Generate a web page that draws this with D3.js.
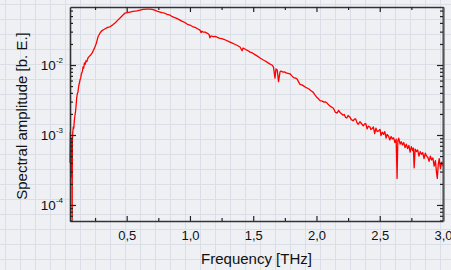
<!DOCTYPE html>
<html>
<head>
<meta charset="utf-8">
<script src="https://cdn.jsdelivr.net/npm/d3@7"></script>
<style>
  body { margin: 0; background: #eef0f4; }
  svg { display: block; font-family: "Liberation Sans", Arial, sans-serif; }
</style>
</head>
<body>
<svg id="chart" width="451" height="270"></svg>
<script>
// spectrum
let freq = [0.052,0.055,0.058,0.061,0.064,0.067,0.069,0.071,0.074,0.078,0.082,0.086,0.091,0.095,0.100,0.105,0.110,0.115,0.120,0.125,
  0.131,0.137,0.143,0.150,0.155,0.160,0.166,0.172,0.178,0.185,0.194,0.205,0.215,0.226,0.237,0.249,0.260,0.273,0.285,0.300,
  0.313,0.330,0.350,0.368,0.390,0.408,0.428,0.447,0.467,0.487,0.506,0.526,0.55,0.58,0.605,0.63,0.66,0.684,0.71,0.74,
  0.763,0.78,0.80,0.82,0.842,0.86,0.88,0.90,0.921,0.94,0.96,0.98,1.000,1.02,1.04,1.06,1.079,1.088,1.095,1.105,1.120,1.135,1.150,1.158,1.165,1.185,1.20,1.214,1.23,1.25,
  1.28,1.30,1.317,1.335,1.35,1.375,1.396,1.412,1.42,1.445,1.46,1.475,1.49,1.51,1.53,1.554,1.58,1.595,1.609,1.63,1.649,1.66,1.672,1.680,1.690,1.700,
  1.712,1.72,1.736,1.75,1.76,1.775,1.791,1.805,1.82,1.835,1.847,1.860,1.870,1.885,1.90,1.915,1.926,1.94,1.95,1.96,1.973,1.985,2.00,2.015,2.028,2.045,2.06,2.07,2.085,2.095,2.107,2.12,2.13,2.14,2.15,2.163,2.175,
  2.186,2.20,2.21,2.22,2.23,2.24,2.25,2.265,2.275,2.29,2.30,2.31,2.32,2.33,2.344,2.355,2.37,2.38,2.39,2.40,2.41,2.423,2.43,2.44,2.45,2.46,2.47,2.48,2.49,2.502,
  2.51,2.52,2.53,2.54,2.55,2.558,2.57,2.58,2.59,2.60,2.61,2.62,2.63,2.637,2.643,2.65,2.661,2.67,2.68,2.69,2.70,2.71,2.72,2.73,2.74,2.75,2.76,2.766,2.772,2.78,
  2.79,2.80,2.81,2.82,2.83,2.84,2.85,2.86,2.87,2.88,2.89,2.90,2.91,2.92,2.93,2.94,2.948,2.955,2.962,2.97,2.98,2.99,3.0];
let amp = [4.0e-4,1.1e-3,3.5e-4,9.0e-4,2.5e-4,7.0e-4,6.2e-5,8.5e-4,1.1e-3,1.3e-3,1.25e-3,1.6e-3,1.9e-3,2.1e-3,2.6e-3,3.4e-3,3.9e-3,4.1e-3,4.9e-3,5.4e-3,
  6.1e-3,6.6e-3,7.6e-3,8.1e-3,9.4e-3,9.0e-3,1.07e-2,1.02e-2,1.15e-2,1.12e-2,1.26e-2,1.33e-2,1.39e-2,1.48e-2,1.62e-2,1.81e-2,2.05e-2,2.51e-2,2.78e-2,3.05e-2,
  3.16e-2,3.30e-2,3.45e-2,3.52e-2,3.75e-2,3.98e-2,4.35e-2,4.69e-2,5.10e-2,5.53e-2,5.62e-2,5.72e-2,5.85e-2,5.95e-2,6.11e-2,6.25e-2,6.31e-2,6.31e-2,6.2e-2,5.9e-2,
  5.72e-2,5.6e-2,5.5e-2,5.3e-2,5.18e-2,4.9e-2,4.75e-2,4.6e-2,4.39e-2,4.2e-2,4.05e-2,3.82e-2,3.73e-2,3.55e-2,3.45e-2,3.3e-2,3.16e-2,2.9e-2,3.05e-2,2.95e-2,2.95e-2,2.86e-2,2.75e-2,2.45e-2,2.6e-2,2.55e-2,2.56e-2,2.51e-2,2.42e-2,2.38e-2,
  2.28e-2,2.2e-2,2.13e-2,2.06e-2,2.0e-2,1.9e-2,1.81e-2,1.60e-2,1.75e-2,1.65e-2,1.6e-2,1.53e-2,1.5e-2,1.42e-2,1.35e-2,1.26e-2,1.18e-2,1.14e-2,1.10e-2,1.04e-2,1.0e-2,9.4e-3,6.5e-3,8.8e-3,8.5e-3,5.8e-3,
  8.0e-3,8.2e-3,7.9e-3,7.95e-3,7.7e-3,7.6e-3,7.5e-3,7.0e-3,6.6e-3,6.5e-3,6.3e-3,5.7e-3,5.3e-3,5.2e-3,5.0e-3,4.8e-3,4.7e-3,4.55e-3,4.4e-3,4.25e-3,4.1e-3,3.8e-3,3.5e-3,3.3e-3,3.1e-3,3.05e-3,2.95e-3,2.98e-3,2.85e-3,2.7e-3,2.6e-3,2.5e-3,2.45e-3,2.3e-3,2.1e-3,2.06e-3,2.25e-3,
  2.1e-3,2.0e-3,1.92e-3,1.96e-3,1.78e-3,1.75e-3,1.9e-3,1.80e-3,1.66e-3,1.6e-3,1.68e-3,1.7e-3,1.5e-3,1.42e-3,1.55e-3,1.46e-3,1.35e-3,1.44e-3,1.45e-3,1.22e-3,1.34e-3,1.3e-3,1.2e-3,1.24e-3,1.3e-3,1.05e-3,1.25e-3,1.12e-3,1.14e-3,1.2e-3,
  0.98e-3,1.1e-3,1.02e-3,1.12e-3,0.9e-3,1.02e-3,0.96e-3,0.85e-3,0.95e-3,0.88e-3,0.91e-3,0.78e-3,0.87e-3,2.4e-4,0.82e-3,0.9e-3,0.74e-3,0.8e-3,0.72e-3,0.78e-3,0.66e-3,0.74e-3,0.64e-3,0.71e-3,0.57e-3,0.68e-3,0.6e-3,0.65e-3,3.4e-4,0.63e-3,
  0.58e-3,0.61e-3,0.5e-3,0.58e-3,0.53e-3,0.56e-3,0.46e-3,0.55e-3,0.5e-3,0.48e-3,0.42e-3,0.5e-3,0.44e-3,0.47e-3,0.36e-3,0.43e-3,0.30e-3,2.4e-4,0.37e-3,0.46e-3,0.33e-3,0.41e-3,0.36e-3];

let xTicks = [0.5, 1.0, 1.5, 2.0, 2.5, 3.0];
let xMinor = [0.25, 0.75, 1.25, 1.75, 2.25, 2.75];
let yTicks = [1e-4, 1e-3, 1e-2];

let W = 451, H = 270;
let margin = {left: 70, right: 8, top: 7, bottom: 49};

let svg = d3.select('#chart');

// graph-paper background
let defs = svg.append('defs');
let pat = defs.append('pattern')
  .attr('id', 'grid')
  .attr('patternUnits', 'userSpaceOnUse')
  .attr('x', 5).attr('y', 4)
  .attr('width', 15).attr('height', 15);
pat.append('rect').attr('width', 15).attr('height', 15).attr('fill', '#eef0f4');
pat.append('path').attr('d', 'M0,0.5H15M0.5,0V15')
  .attr('stroke', '#dadee6').attr('stroke-width', 1).attr('fill', 'none');
svg.append('rect').attr('width', W).attr('height', H).attr('fill', 'url(#grid)');

let x = d3.scaleLinear().domain([0.052, 3.0]).range([margin.left, W - margin.right]);
let y = d3.scaleLog().domain([5.9e-5, 0.0675]).range([H - margin.bottom, margin.top]);

let data = freq.map((f, i) => ({f: f, a: amp[i]}));

// curve
svg.append('path')
  .datum(data)
  .attr('fill', 'none')
  .attr('stroke', '#ff0000')
  .attr('stroke-width', 1.3)
  .attr('stroke-linejoin', 'round')
  .attr('d', d3.line().x(d => x(d.f)).y(d => y(d.a)));

// minor y values 2..9 x decade
let yMinor = [];
[1e-5, 1e-4, 1e-3, 1e-2].forEach(dec => {
  for (let k = 2; k <= 9; k++) {
    let v = dec * k;
    if (v >= y.domain()[0] && v <= y.domain()[1]) yMinor.push(v);
  }
});

function styleAxis(g){
  g.select('.domain').attr('stroke', '#333').attr('stroke-width', 1.6);
  g.selectAll('.tick line').attr('stroke', '#222').attr('stroke-width', 1.2);
}

let x0 = margin.left, x1 = W - margin.right, y0 = H - margin.bottom, y1 = margin.top;

// bottom axis
let gB = svg.append('g').attr('transform', `translate(0,${y0})`)
  .call(d3.axisBottom(x).tickValues(xTicks).tickSizeInner(-5).tickSizeOuter(0)
    .tickFormat(d => d3.format('.1f')(d).replace('.', ',')));
styleAxis(gB);
gB.selectAll('.tick text').attr('y', 10).attr('dy', '0.71em')
  .attr('font-size', 13).attr('fill', '#111').style('font-family', '"Liberation Sans", Arial, sans-serif');
svg.append('g').attr('transform', `translate(0,${y0})`)
  .call(d3.axisBottom(x).tickValues(xMinor).tickSizeInner(-3).tickSizeOuter(0).tickFormat(''))
  .call(g => { g.select('.domain').remove(); g.selectAll('line').attr('stroke', '#222').attr('stroke-width', 1.2); });

// top axis
let gT = svg.append('g').attr('transform', `translate(0,${y1})`)
  .call(d3.axisTop(x).tickValues(xTicks).tickSizeInner(-5).tickSizeOuter(0).tickFormat(''));
styleAxis(gT);
svg.append('g').attr('transform', `translate(0,${y1})`)
  .call(d3.axisTop(x).tickValues(xMinor).tickSizeInner(-3).tickSizeOuter(0).tickFormat(''))
  .call(g => { g.select('.domain').remove(); g.selectAll('line').attr('stroke', '#222').attr('stroke-width', 1.2); });

// left axis
let gL = svg.append('g').attr('transform', `translate(${x0},0)`)
  .call(d3.axisLeft(y).tickValues(yTicks).tickSizeInner(-6).tickSizeOuter(0).tickFormat(''));
styleAxis(gL);
svg.append('g').attr('transform', `translate(${x0},0)`)
  .call(d3.axisLeft(y).tickValues(yMinor).tickSizeInner(-3).tickSizeOuter(0).tickFormat(''))
  .call(g => { g.select('.domain').remove(); g.selectAll('line').attr('stroke', '#222').attr('stroke-width', 1.2); });

// y tick labels with superscript exponent
gL.selectAll('.tick').each(function(d){
  let t = d3.select(this).append('text')
    .attr('x', -7).attr('dy', '0.35em')
    .attr('text-anchor', 'end')
    .attr('fill', '#111')
    .attr('font-size', 13.5);
  t.append('tspan').text('10');
  t.append('tspan').attr('font-size', 8).attr('dy', '-0.9em').text(Math.round(Math.log10(d)));
});

// right axis
let gR = svg.append('g').attr('transform', `translate(${x1},0)`)
  .call(d3.axisRight(y).tickValues(yTicks).tickSizeInner(-6).tickSizeOuter(0).tickFormat(''));
styleAxis(gR);
gR.select('.domain').attr('stroke', '#555').attr('stroke-width', 2.2);
svg.append('g').attr('transform', `translate(${x1},0)`)
  .call(d3.axisRight(y).tickValues(yMinor).tickSizeInner(-3).tickSizeOuter(0).tickFormat(''))
  .call(g => { g.select('.domain').remove(); g.selectAll('line').attr('stroke', '#222').attr('stroke-width', 1.2); });

// axis titles
svg.append('text')
  .attr('x', (x0 + x1) / 2).attr('y', 264)
  .attr('text-anchor', 'middle')
  .attr('font-size', 15).attr('fill', '#111')
  .text('Frequency [THz]');

svg.append('text')
  .attr('transform', `translate(27,${(y0 + y1) / 2 + 2}) rotate(-90)`)
  .attr('text-anchor', 'middle')
  .attr('font-size', 15).attr('fill', '#111')
  .text('Spectral amplitude [b. E.]');
</script>
</body>
</html>
